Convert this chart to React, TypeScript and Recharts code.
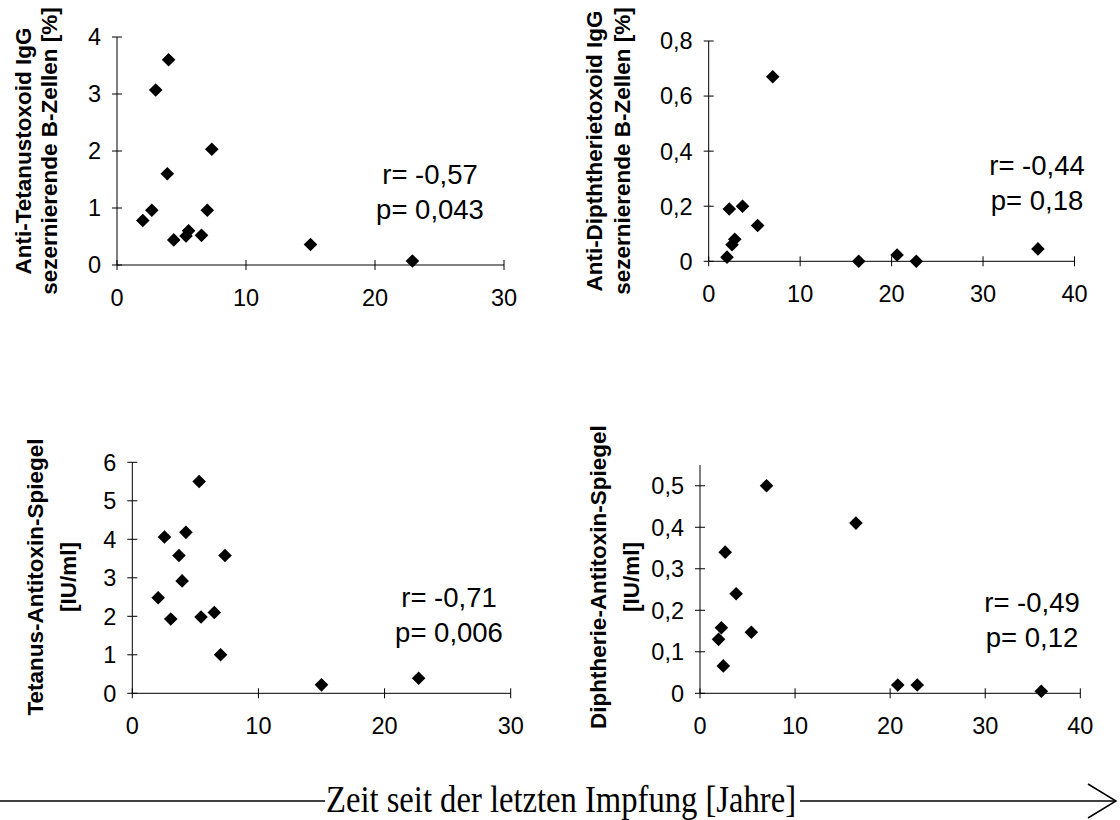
import { ScatterChart, Scatter, XAxis, YAxis } from "recharts"

// Zeit seit der letzten Impfung [Jahre] und Messwerte je Panel
const tetBzellYears = [2.0, 2.7, 3.0, 3.9, 4.0, 4.4, 5.35, 5.55, 6.55, 7.0, 7.35, 15.0, 22.9]
const tetBzellPct = [0.78, 0.96, 3.07, 1.6, 3.6, 0.44, 0.51, 0.6, 0.52, 0.96, 2.03, 0.36, 0.07]

const diphBzellYears = [2.0, 2.25, 2.55, 2.85, 3.7, 5.35, 7.0, 16.4, 20.6, 22.7, 36.0]
const diphBzellPct = [0.015, 0.19, 0.06, 0.08, 0.2, 0.13, 0.67, 0.0, 0.023, 0.0, 0.045]

const tetSpiegelYears = [2.05, 2.55, 3.05, 3.7, 3.95, 4.25, 5.3, 5.45, 6.5, 7.0, 7.35, 15.0, 22.7]
const tetSpiegelIU = [2.48, 4.06, 1.93, 3.58, 2.92, 4.18, 5.5, 1.98, 2.1, 1.0, 3.58, 0.22, 0.39]

const diphSpiegelYears = [1.95, 2.25, 2.45, 2.65, 3.8, 5.4, 7.0, 16.4, 20.8, 22.85, 35.9]
const diphSpiegelIU = [0.13, 0.158, 0.066, 0.34, 0.24, 0.147, 0.5, 0.41, 0.02, 0.02, 0.005]

const xTicks30 = [0, 10, 20, 30]
const xTicks40 = [0, 10, 20, 30, 40]
const yTicksTetB = [0, 1, 2, 3, 4]
const yTicksDiphB = [0, 0.2, 0.4, 0.6, 0.8]
const yTicksTetS = [0, 1, 2, 3, 4, 5, 6]
const yTicksDiphS = [0, 0.1, 0.2, 0.3, 0.4, 0.5]

const FONT = "'Liberation Sans', Arial, sans-serif"

const zip = (xs: number[], ys: number[]) => xs.map((x, i) => ({ x, y: ys[i] }))
const fmt = (v: number) => String(Math.round(v * 100) / 100).replace(".", ",")

const YTick = (props: any) => {
  const { x, y, payload } = props
  return (
    <g>
      <line x1={x - 5} x2={x + 5} y1={y} y2={y} stroke="#000" />
      <text x={x - 16} y={y} dy={8.4} textAnchor="end" fontSize={23.5} fontFamily={FONT} fill="#000">
        {fmt(payload.value)}
      </text>
    </g>
  )
}

const XTick = (props: any) => {
  const { x, y, payload } = props
  return (
    <g>
      <line x1={x} x2={x} y1={y - 5} y2={y + 5} stroke="#000" />
      <text x={x} y={y + 41} textAnchor="middle" fontSize={23.5} fontFamily={FONT} fill="#000">
        {fmt(payload.value)}
      </text>
    </g>
  )
}

const Diamond = (props: any) => {
  const { cx, cy } = props
  const r = 6.8
  return <polygon points={`${cx},${cy - r} ${cx + r},${cy} ${cx},${cy + r} ${cx - r},${cy}`} fill="#000" />
}

type PanelProps = {
  data: { x: number; y: number }[]
  left: number
  top: number
  width: number
  height: number
  margin: { top: number; right: number; bottom: number; left: number }
  xMax: number
  xTicks: number[]
  yMax: number
  yTicks: number[]
}

function Panel({ data, left, top, width, height, margin, xMax, xTicks, yMax, yTicks }: PanelProps) {
  return (
    <div style={{ position: "absolute", left, top, width, height }}>
      <ScatterChart width={width} height={height} margin={margin}>
        <XAxis
          type="number"
          dataKey="x"
          domain={[0, xMax]}
          ticks={xTicks}
          interval={0}
          height={50}
          tickSize={0}
          tickMargin={0}
          tick={(p: any) => <XTick {...p} />}
          axisLine={{ stroke: "#000" }}
          tickLine={false}
        />
        <YAxis
          type="number"
          dataKey="y"
          domain={[0, yMax]}
          ticks={yTicks}
          interval={0}
          width={60}
          tickSize={0}
          tickMargin={0}
          tick={(p: any) => <YTick {...p} />}
          axisLine={{ stroke: "#000" }}
          tickLine={false}
        />
        <Scatter data={data} shape={(p: any) => <Diamond {...p} />} isAnimationActive={false} />
      </ScatterChart>
    </div>
  )
}

const Title = ({ lines, cy }: { lines: { text: string; x: number }[]; cy: number }) => (
  <>
    {lines.map((l, i) => (
      <text
        key={i}
        x={l.x}
        y={cy}
        transform={`rotate(-90, ${l.x}, ${cy})`}
        textAnchor="middle"
        fontSize={22.5}
        fontWeight="bold"
        fontFamily={FONT}
        fill="#000"
      >
        {l.text}
      </text>
    ))}
  </>
)

const Stats = ({ cx, y, r, p }: { cx: number; y: number; r: string; p: string }) => (
  <g fontSize={27.5} fontFamily={FONT} fill="#000" textAnchor="middle">
    <text x={cx} y={y}>{r}</text>
    <text x={cx} y={y + 35}>{p}</text>
  </g>
)

export default function App() {
  return (
    <div style={{ position: "absolute", left: 0, top: 0, width: 1120, height: 820, background: "#fff" }}>
      <Panel
        data={zip(tetBzellYears, tetBzellPct)}
        left={0}
        top={0}
        width={560}
        height={340}
        margin={{ top: 37, right: 56, bottom: 25, left: 57 }}
        xMax={30}
        xTicks={xTicks30}
        yMax={4}
        yTicks={yTicksTetB}
      />
      <Panel
        data={zip(diphBzellYears, diphBzellPct)}
        left={560}
        top={0}
        width={560}
        height={340}
        margin={{ top: 41, right: 45.5, bottom: 28.7, left: 88.7 }}
        xMax={40}
        xTicks={xTicks40}
        yMax={0.8}
        yTicks={yTicksDiphB}
      />
      <Panel
        data={zip(tetSpiegelYears, tetSpiegelIU)}
        left={0}
        top={400}
        width={560}
        height={360}
        margin={{ top: 62.3, right: 49.3, bottom: 16.7, left: 72.3 }}
        xMax={30}
        xTicks={xTicks30}
        yMax={6}
        yTicks={yTicksTetS}
      />
      <Panel
        data={zip(diphSpiegelYears, diphSpiegelIU)}
        left={560}
        top={400}
        width={560}
        height={360}
        margin={{ top: 65, right: 39.7, bottom: 16.7, left: 80 }}
        xMax={40}
        xTicks={xTicks40}
        yMax={0.55}
        yTicks={yTicksDiphS}
      />
      <svg width={1120} height={820} style={{ position: "absolute", left: 0, top: 0, pointerEvents: "none" }}>
        <Title
          cy={151}
          lines={[
            { text: "Anti-Tetanustoxoid IgG", x: 31 },
            { text: "sezernierende B-Zellen [%]", x: 57 },
          ]}
        />
        <Title
          cy={151}
          lines={[
            { text: "Anti-Dipththerietoxoid IgG", x: 602 },
            { text: "sezernierende B-Zellen [%]", x: 630 },
          ]}
        />
        <Title
          cy={577}
          lines={[
            { text: "Tetanus-Antitoxin-Spiegel", x: 43 },
            { text: "[IU/ml]", x: 76 },
          ]}
        />
        <Title
          cy={577}
          lines={[
            { text: "Diphtherie-Antitoxin-Spiegel", x: 606 },
            { text: "[IU/ml]", x: 639 },
          ]}
        />
        <Stats cx={430} y={184} r="r= -0,57" p="p= 0,043" />
        <Stats cx={1037} y={175} r="r= -0,44" p="p= 0,18" />
        <Stats cx={449} y={607} r="r= -0,71" p="p= 0,006" />
        <Stats cx={1032} y={612} r="r= -0,49" p="p= 0,12" />
        <line x1={0} x2={325} y1={801} y2={801} stroke="#000" strokeWidth={1.5} />
        <line x1={800} x2={1116} y1={801} y2={801} stroke="#000" strokeWidth={1.5} />
        <polyline points="1088,784 1116,801 1088,818" fill="none" stroke="#000" strokeWidth={1.5} />
        <text
          x={326}
          y={812}
          fontSize={37}
          fontFamily="'Liberation Serif', 'Times New Roman', serif"
          textLength={470}
          lengthAdjust="spacingAndGlyphs"
          fill="#000"
        >
          Zeit seit der letzten Impfung [Jahre]
        </text>
      </svg>
    </div>
  )
}
